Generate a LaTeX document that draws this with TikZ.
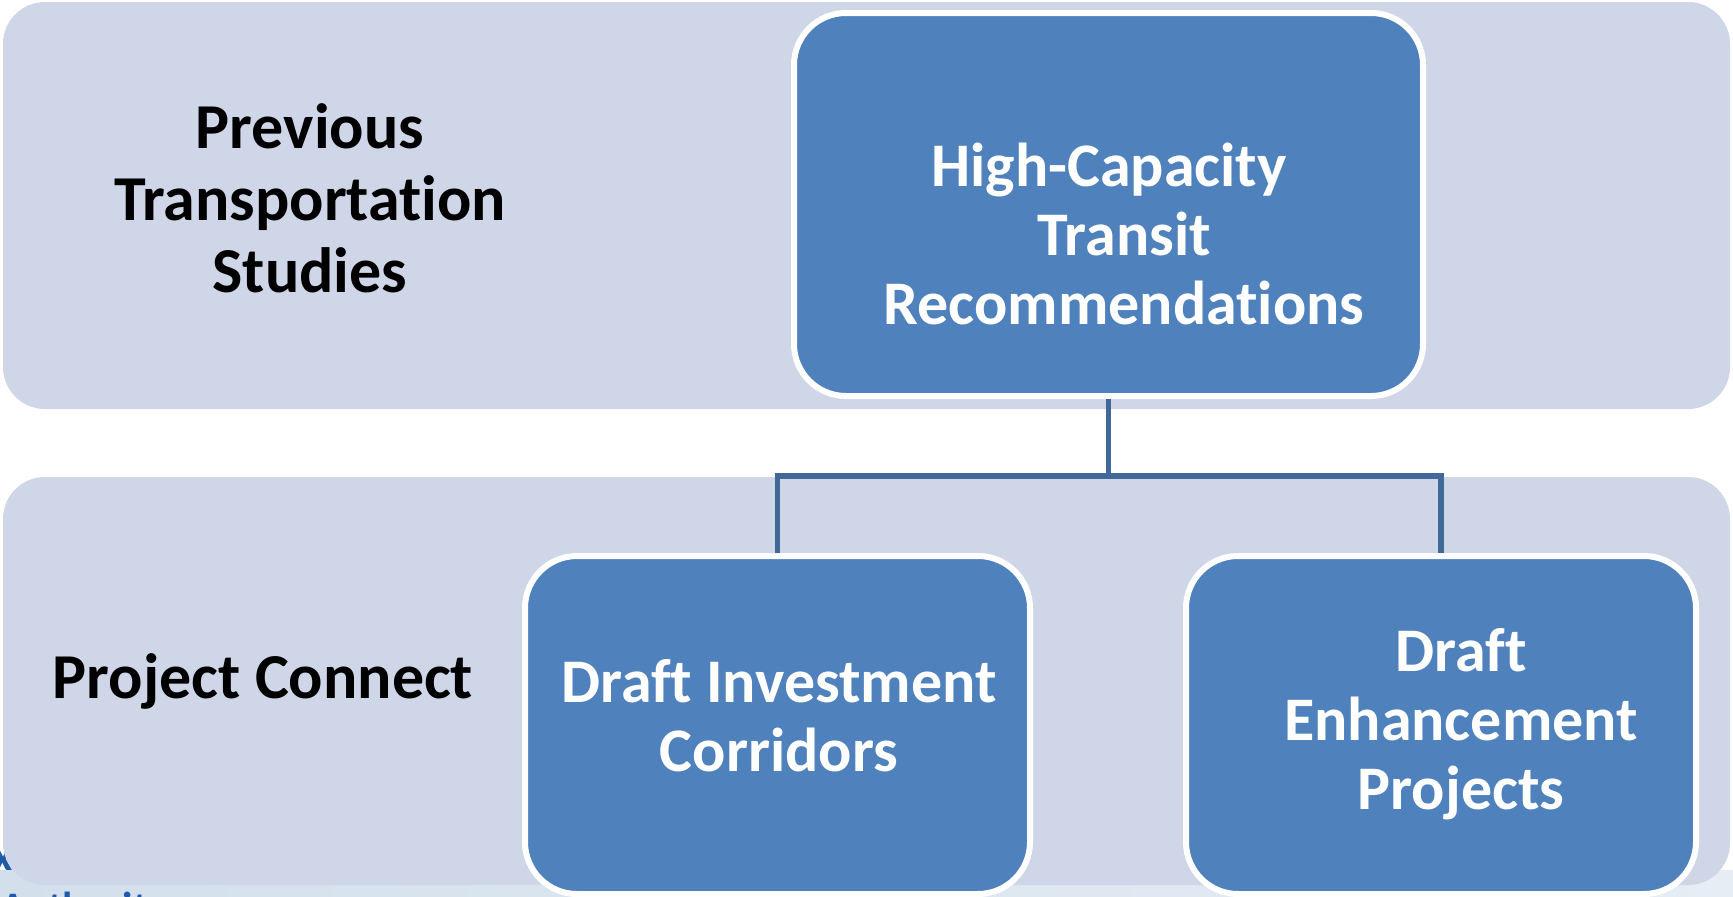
\documentclass[tikz,border=0pt]{standalone}
\usepackage{fontspec}
\setmainfont{Carlito}[RawFeature={-liga;-clig;-dlig;-calt}]
\definecolor{bandcol}{HTML}{CFD6E8}
\definecolor{boxcol}{HTML}{4F81BD}
\definecolor{conncol}{HTML}{40699A}
\definecolor{logocol}{HTML}{1F5AA6}
\definecolor{stripA}{HTML}{D3E0EC}
\definecolor{stripB}{HTML}{E6EDF4}
\tikzset{
  bandbox/.style={rectangle, fill=bandcol, draw=none, rounded corners=42pt, inner sep=0pt},
  stepbox/.style={rectangle, fill=boxcol, draw=white, line width=6pt, rounded corners=52pt, inner sep=0pt},
  boxtext/.style={text=white, font=\fontsize{62}{69}\selectfont\bfseries, align=center, inner sep=0pt},
  labeltext/.style={text=black, font=\fontsize{64}{72}\selectfont\bfseries, align=center, inner sep=0pt},
  connline/.style={draw=conncol, line width=5.5pt},
  fainttext/.style={text=logocol, font=\fontsize{42}{48}\selectfont\bfseries, inner sep=0pt},
}
\begin{document}
\begin{tikzpicture}[x=1pt,y=-1pt]
\useasboundingbox (0,0) rectangle (1733,897);
\clip (0,0) rectangle (1733,897);
\fill[white] (0,0) rectangle (1733,897);
\shade[left color=stripA, right color=stripB] (0,870) rectangle (1733,897);
% faint background fragments
\node[fainttext] (fragx) at (3,860) {x};
\node[fainttext, anchor=base west] (fragauth) at (0,921) {Authority};
% bands
\node[bandbox, minimum width=1727pt, minimum height=407pt] (topband) at (866.5,205.5) {};
\node[bandbox, minimum width=1727pt, minimum height=408pt] (botband) at (866.5,681) {};
% boxes
\node[stepbox, minimum width=629pt, minimum height=383pt] (hc) at (1108.5,204.5) {};
\node[stepbox, minimum width=505pt, minimum height=338pt] (dic) at (777.5,725) {};
\node[stepbox, minimum width=510pt, minimum height=338pt] (dep) at (1441,725) {};
% connectors
\coordinate (jn) at (1108.5,476);
\draw[connline] (hc.south) -- (jn);
\draw[connline] (dic.north) |- (jn) -| (dep.north);
% texts
\node[labeltext] (prevT) at (310,198) {Previous\\Transportation\\Studies};
\node[labeltext] (pcT) at (263,681) {Project Connect};
\node[boxtext] (hcT) at (1124,234) {High-Capacity\rule{30pt}{0pt}\\Transit\\Recommendations};
\node[boxtext] (dicT) at (779,716) {Draft Investment\\Corridors};
\node[boxtext] (depT) at (1461,724) {Draft\\Enhancement\\Projects};
\end{tikzpicture}
\end{document}
